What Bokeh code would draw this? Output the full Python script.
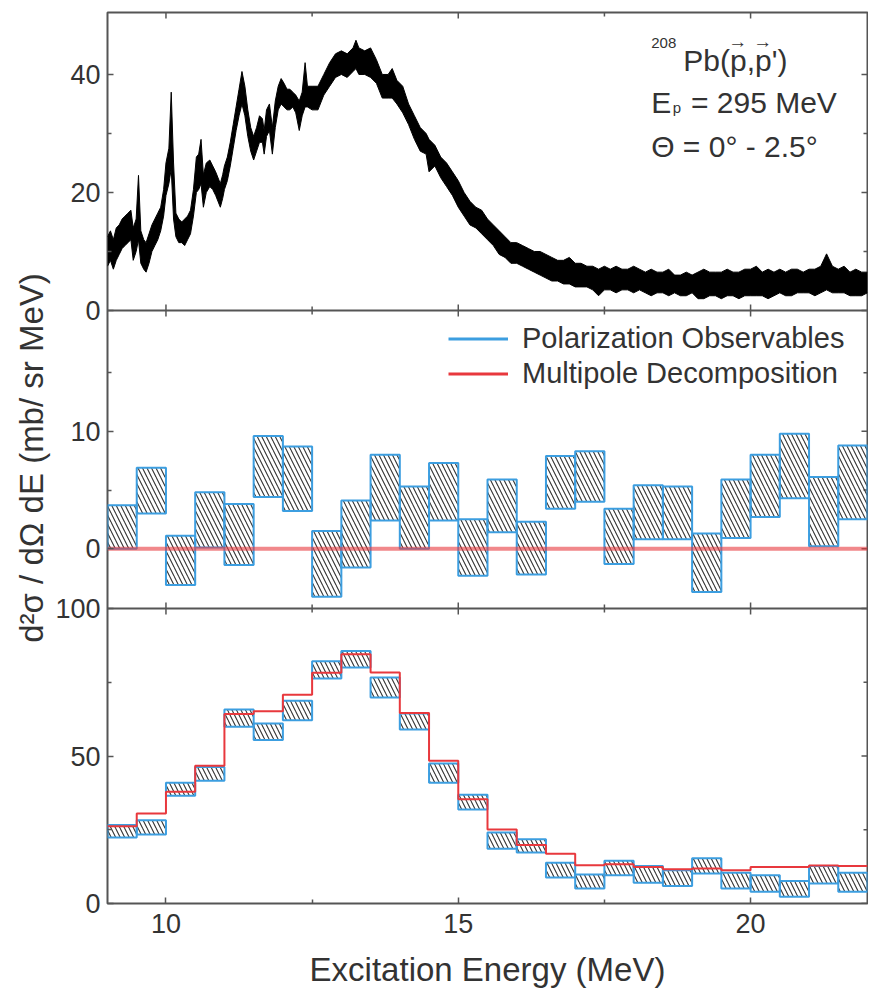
import math
from bokeh.plotting import figure
from bokeh.models import (Range1d, FixedTicker, Span, Label, Legend, LegendItem)
from bokeh.embed import file_html
from bokeh.resources import INLINE

# ---------------- data ----------------
# top panel: measured spectrum, envelope of the noisy trace
spec_e = [9.00, 9.05, 9.10, 9.15, 9.20, 9.25, 9.30, 9.35, 9.40, 9.44, 9.49, 9.53, 9.57, 9.62, 9.66,
          9.71, 9.76, 9.81, 9.86, 9.91, 9.96, 10.00, 10.05, 10.09, 10.13, 10.17, 10.22, 10.27, 10.32,
          10.37, 10.42, 10.47, 10.52, 10.56, 10.60, 10.64, 10.69, 10.75, 10.80, 10.85, 10.93, 10.97,
          11.00, 11.05, 11.10, 11.15, 11.20, 11.25, 11.30, 11.35, 11.40, 11.45, 11.50, 11.55, 11.60,
          11.65, 11.68, 11.72, 11.77, 11.82, 11.87, 11.92, 11.97, 12.02, 12.07, 12.12, 12.17, 12.22,
          12.28, 12.33, 12.38, 12.42, 12.50, 12.60, 12.70, 12.80, 12.90, 13.00, 13.10, 13.20, 13.25,
          13.30, 13.40, 13.50, 13.60, 13.70, 13.80, 13.87, 13.95, 14.05, 14.15, 14.25, 14.35, 14.45,
          14.50, 14.60, 14.70, 14.80, 14.90, 15.00, 15.10, 15.20, 15.30, 15.40, 15.50, 15.60, 15.70,
          15.80, 15.90, 16.00, 16.10, 16.20, 16.30, 16.40, 16.50, 16.60, 16.70, 16.80, 16.90, 17.00,
          17.10, 17.20, 17.30, 17.40, 17.50, 17.60, 17.70, 17.80, 17.90, 18.00, 18.10, 18.20, 18.30,
          18.40, 18.50, 18.60, 18.70, 18.80, 18.90, 19.00, 19.10, 19.20, 19.30, 19.40, 19.50, 19.60,
          19.70, 19.80, 19.90, 20.00, 20.10, 20.20, 20.30, 20.40, 20.50, 20.60, 20.70, 20.80, 20.90,
          21.00, 21.10, 21.20, 21.30, 21.40, 21.50, 21.60, 21.70, 21.80, 21.90, 22.00]
spec_lo = [7.5, 8.5, 7.0, 8.5, 9.5, 10.5, 11.0, 11.5, 12.0, 8.5, 10.0, 12.0, 8.0, 7.0, 6.5,
           8.0, 10.0, 11.0, 12.0, 13.5, 16.0, 19.5, 21.5, 24.0, 15.5, 12.5, 11.5, 11.5, 11.0,
           12.0, 13.0, 16.0, 20.0, 20.5, 21.5, 17.5, 20.0, 21.0, 20.5, 19.5, 17.5, 19.0,
           20.5, 22.0, 24.5, 27.5, 30.5, 33.0, 35.0, 33.0, 29.5, 27.0, 25.5, 27.0, 28.5,
           28.5, 26.5, 29.5, 30.5, 26.5, 31.0, 34.0, 35.0, 34.5, 34.0, 34.0, 34.5, 33.5,
           30.5, 33.0, 34.5, 34.5, 34.0, 34.0, 36.5, 38.0, 39.5, 40.0, 39.5, 40.5, 41.0,
           40.0, 40.0, 39.5, 38.5, 36.0, 36.0, 36.0, 35.0, 33.5, 31.5, 29.0, 27.0, 26.5,
           23.5, 24.5, 22.5, 21.0, 19.5, 17.5, 16.0, 14.5, 14.0, 13.0, 12.0, 11.0, 9.5,
           9.0, 8.0, 8.0, 7.5, 7.0, 6.5, 6.0, 5.5, 5.0, 5.0, 4.5, 4.5, 4.0,
           4.0, 4.0, 3.5, 2.5, 3.5, 3.5, 3.0, 3.5, 3.5, 3.0, 3.5, 3.0, 2.5,
           3.0, 3.0, 2.5, 3.0, 2.5, 2.5, 3.0, 2.0, 2.0, 2.5, 2.5, 2.0, 2.5,
           2.5, 2.0, 2.5, 2.5, 2.5, 2.5, 2.0, 2.5, 3.0, 2.5, 2.5, 3.0, 3.0,
           3.0, 2.5, 3.0, 3.5, 3.0, 3.0, 3.0, 2.5, 2.5, 2.5, 3.0]
spec_hi = [12.5, 13.5, 12.0, 14.0, 14.5, 15.5, 16.0, 16.5, 17.0, 14.0, 15.5, 22.9, 13.5, 12.0, 11.5,
           13.0, 14.5, 15.5, 16.5, 17.5, 20.5, 25.0, 27.5, 37.0, 25.0, 16.5, 15.5, 15.0, 15.5,
           16.0, 17.0, 20.5, 26.0, 26.5, 29.0, 23.0, 25.0, 25.5, 24.5, 23.5, 21.5, 23.0,
           24.5, 26.0, 28.5, 31.5, 34.5, 37.5, 40.5, 38.0, 34.0, 31.0, 29.5, 31.0, 33.0,
           32.5, 30.5, 34.0, 35.0, 31.0, 35.5, 38.0, 39.3, 38.5, 37.5, 37.5, 37.0, 36.5,
           35.5, 37.0, 42.0, 38.0, 38.0, 38.0, 40.0, 42.0, 43.5, 44.0, 43.5, 44.5, 45.8,
           44.5, 44.0, 44.5, 42.5, 40.0, 40.0, 41.0, 39.0, 38.0, 35.0, 33.0, 31.0, 30.0,
           29.0, 28.0, 26.0, 25.0, 23.5, 22.0, 20.0, 18.5, 17.5, 17.0, 15.5, 14.5, 13.5,
           12.5, 11.5, 11.5, 11.0, 10.5, 10.0, 10.0, 9.5, 9.0, 8.5, 8.5, 9.0, 8.0,
           8.0, 7.5, 7.5, 7.0, 7.5, 7.0, 7.5, 7.0, 7.0, 7.5, 7.0, 6.5, 7.0,
           6.5, 6.5, 7.0, 6.0, 6.0, 6.5, 6.0, 6.5, 7.0, 6.5, 6.5, 6.5, 7.0,
           6.5, 6.5, 7.0, 7.0, 7.5, 6.5, 7.0, 6.5, 7.0, 6.5, 7.0, 7.0, 6.5,
           7.0, 7.0, 7.5, 9.6, 7.5, 7.0, 7.5, 6.5, 7.0, 6.5, 6.5]

# histogram bins (MeV)
bin_edges = [9.0, 9.5, 10.0, 10.5, 11.0, 11.5, 12.0, 12.5, 13.0, 13.5, 14.0, 14.5, 15.0, 15.5,
             16.0, 16.5, 17.0, 17.5, 18.0, 18.5, 19.0, 19.5, 20.0, 20.5, 21.0, 21.5, 22.0]

# middle panel: polarization observables band and multipole decomposition
pol_mid_hi = [3.7, 6.9, 1.1, 4.8, 3.8, 9.6, 8.7, 1.5, 4.1, 8.0, 5.3, 7.3, 2.5,
              5.9, 2.3, 7.9, 8.3, 3.4, 5.4, 5.3, 1.3, 5.9, 8.0, 9.8, 6.1, 8.8]
pol_mid_lo = [0.0, 3.0, -3.1, 0.1, -1.4, 4.4, 3.2, -4.1, -1.6, 2.4, 0.0, 2.4, -2.3,
              1.4, -2.2, 3.4, 4.0, -1.3, 0.8, 0.8, -3.7, 0.9, 2.7, 4.3, 0.2, 2.5]
mpd_mid = [0.0, 0.0, 0.0, 0.0, 0.0, 0.0, 0.0, 0.0, 0.0, 0.0, 0.0, 0.0, 0.0,
           0.0, 0.0, 0.0, 0.0, 0.0, 0.0, 0.0, 0.0, 0.0, 0.0, 0.0, 0.0, 0.0]

# bottom panel
pol_bot_hi = [26.6, 28.2, 40.9, 46.3, 65.8, 61.0, 68.7, 82.1, 85.6, 76.6, 64.4, 47.5, 36.9,
              24.1, 21.8, 13.8, 9.8, 14.5, 12.7, 11.3, 15.3, 10.4, 9.6, 7.6, 12.7, 10.4]
pol_bot_lo = [22.4, 23.4, 36.5, 41.6, 59.9, 55.4, 62.1, 76.3, 80.0, 69.8, 59.0, 40.9, 31.9,
              18.6, 17.3, 8.8, 5.1, 9.6, 7.0, 5.9, 10.2, 5.1, 4.0, 2.3, 6.8, 4.0]
mpd_bot = [26.2, 30.5, 37.9, 46.7, 64.2, 65.2, 70.8, 78.2, 84.5, 78.3, 64.6, 48.4, 35.3,
           25.1, 19.8, 16.9, 13.0, 13.3, 12.4, 11.6, 11.9, 11.3, 12.4, 12.4, 12.9, 12.7]

x_major = [10, 15, 20]
x_minor = [12.5, 17.5]
top_major = [0, 20, 40]
top_minor = [10, 30]
mid_major = [0, 10]
mid_minor = [5, 15]
bot_major = [0, 50, 100]
bot_minor = [25, 75]

legend_labels = ["Polarization Observables", "Multipole Decomposition"]

# ---------------- layout / style ----------------
FONT = "Liberation Sans"
TXT = "#333333"
AX = "#555555"
BLUE = "#3c9ee0"
RED = "#e8383d"

top_lim = (0.0, 50.5)
mid_lim = (-5.1, 20.3)
bot_lim = (0.0, 100.0)
BAND_BOT, BAND_MID, BAND_TOP = 295, 298, 298
FH = BAND_BOT + BAND_MID + BAND_TOP
BASE = {"bot": 0, "mid": BAND_BOT, "top": BAND_BOT + BAND_MID}
BANDS = {"bot": BAND_BOT, "mid": BAND_MID, "top": BAND_TOP}
LIMS = {"bot": bot_lim, "mid": mid_lim, "top": top_lim}
X0, X1 = 9, 22


def panel_range(name):
    lo, hi = LIMS[name]
    s = (hi - lo) / BANDS[name]
    return Range1d(lo - BASE[name] * s, lo + (FH - BASE[name]) * s)


def to_px(name, v):
    lo, hi = LIMS[name]
    return round(BASE[name] + (v - lo) / (hi - lo) * BANDS[name], 4)


p = figure(frame_width=760, frame_height=FH,
           x_range=Range1d(X0, X1), y_range=Range1d(0, FH),
           output_backend="svg", toolbar_location=None,
           min_border_left=107, min_border_right=1,
           min_border_top=12, min_border_bottom=88,
           background_fill_color="white", border_fill_color="white")
p.extra_y_ranges = {k: panel_range(k) for k in ("top", "mid", "bot")}
p.xgrid.visible = False
p.ygrid.visible = False
p.outline_line_color = AX
p.outline_line_width = 2

# y ticks (one axis carrying the three panels)
major_px, labels = [], {}
for name, ticks in (("top", top_major), ("mid", mid_major), ("bot", bot_major)):
    for t in ticks:
        px = to_px(name, t)
        major_px.append(px)
        labels[px] = f"{t:g}"
minor_px = [to_px("top", t) for t in top_minor] + [to_px("mid", t) for t in mid_minor] + \
           [to_px("bot", t) for t in bot_minor]
yticker = FixedTicker(ticks=major_px, minor_ticks=minor_px)
xticker = FixedTicker(ticks=x_major, minor_ticks=x_minor)


def style_axis(ax):
    ax.axis_line_color = None
    ax.major_tick_in = 6
    ax.major_tick_out = 0
    ax.minor_tick_in = 4
    ax.minor_tick_out = 0
    ax.major_tick_line_color = AX
    ax.minor_tick_line_color = AX
    ax.major_tick_line_width = 1.5
    ax.minor_tick_line_width = 1.5
    ax.major_label_text_font = FONT
    ax.major_label_text_color = TXT
    ax.major_label_text_font_size = "27px"
    ax.axis_label_text_font = FONT
    ax.axis_label_text_font_size = "33px"
    ax.axis_label_text_font_style = "normal"
    ax.axis_label_text_color = TXT


yl = p.yaxis[0]
yl.ticker = yticker
yl.major_label_overrides = labels
style_axis(yl)
yl.major_label_standoff = 7
yl.axis_label = "d²σ / dΩ dE (mb/ sr MeV)"
yl.axis_label_standoff = 2

xb = p.xaxis[0]
xb.ticker = xticker
style_axis(xb)
xb.major_label_standoff = 10
xb.axis_label = "Excitation Energy (MeV)"
xb.axis_label_standoff = 15

# inward ticks on the right and top edges, and ticks on the panel separators
tick_style = dict(marker="dash", line_color=AX, line_width=1.5)
p.scatter(x=[X1] * len(major_px), y=major_px, size=12, **tick_style)
p.scatter(x=[X1] * len(minor_px), y=minor_px, size=8, **tick_style)
rows = [BASE["mid"], BASE["top"], FH]
p.scatter(x=[x for _ in rows for x in x_major], y=[s for s in rows for _ in x_major],
          size=12, angle=math.pi / 2, **tick_style)
p.scatter(x=[x for _ in rows for x in x_minor], y=[s for s in rows for _ in x_minor],
          size=8, angle=math.pi / 2, **tick_style)
for name in ("mid", "top"):
    p.add_layout(Span(location=BASE[name], dimension="width", line_color=AX, line_width=2))

# top panel spectrum
p.varea(x=spec_e, y1=spec_lo, y2=spec_hi, y_range_name="top", fill_color="black")
p.line(spec_e, spec_lo, y_range_name="top", line_color="black", line_width=1)
p.line(spec_e, spec_hi, y_range_name="top", line_color="black", line_width=1)

left = bin_edges[:-1]
right = bin_edges[1:]
hatch = dict(fill_color=None, line_color=BLUE, line_width=2,
             hatch_pattern="left_diagonal_line", hatch_color="#333333",
             hatch_scale=9, hatch_weight=1.1)

# middle panel
p.quad(left=left, right=right, top=pol_mid_hi, bottom=pol_mid_lo, y_range_name="mid", **hatch)
p.step(x=bin_edges, y=mpd_mid + [mpd_mid[-1]], mode="after", y_range_name="mid",
       line_color=RED, line_alpha=0.6, line_width=4)

# bottom panel
p.quad(left=left, right=right, top=pol_bot_hi, bottom=pol_bot_lo, y_range_name="bot", **hatch)
p.step(x=bin_edges, y=mpd_bot + [mpd_bot[-1]], mode="after", y_range_name="bot",
       line_color=RED, line_width=2)

# legend (sample lines only)
nan = float("nan")
lb = p.line(x=[nan, nan], y=[nan, nan], line_color=BLUE, line_width=3)
lr = p.line(x=[nan, nan], y=[nan, nan], line_color=RED, line_width=3)
legend = Legend(items=[LegendItem(label=legend_labels[0], renderers=[lb]),
                       LegendItem(label=legend_labels[1], renderers=[lr])],
                location=(341, 512), padding=0, margin=0, spacing=0,
                glyph_width=60, glyph_height=35, label_height=35, label_standoff=14,
                label_text_font=FONT, label_text_font_size="29px", label_text_color=TXT,
                border_line_color=None, background_fill_alpha=0)
p.add_layout(legend)


# annotation in the top panel
def lab(x, y, text, size, align="left", baseline="alphabetic"):
    p.add_layout(Label(x=x, y=y, y_range_name="top", text=text, text_font=FONT,
                       text_font_size=size, text_color=TXT, text_align=align,
                       text_baseline=baseline))


lab(18.30, 45.3, "208", "15px")
lab(18.85, 42.4, "Pb(p,p')", "30px")
lab(19.78, 45.6, "→", "19px", align="center", baseline="middle")
lab(20.21, 45.6, "→", "19px", align="center", baseline="middle")
lab(18.30, 35.3, "E", "30px")
lab(18.67, 34.4, "p", "15px")
lab(18.98, 35.3, "= 295 MeV", "30px")
lab(18.30, 27.8, "Θ = 0° - 2.5°", "30px")

open("out.html", "w").write(file_html(p, INLINE))
